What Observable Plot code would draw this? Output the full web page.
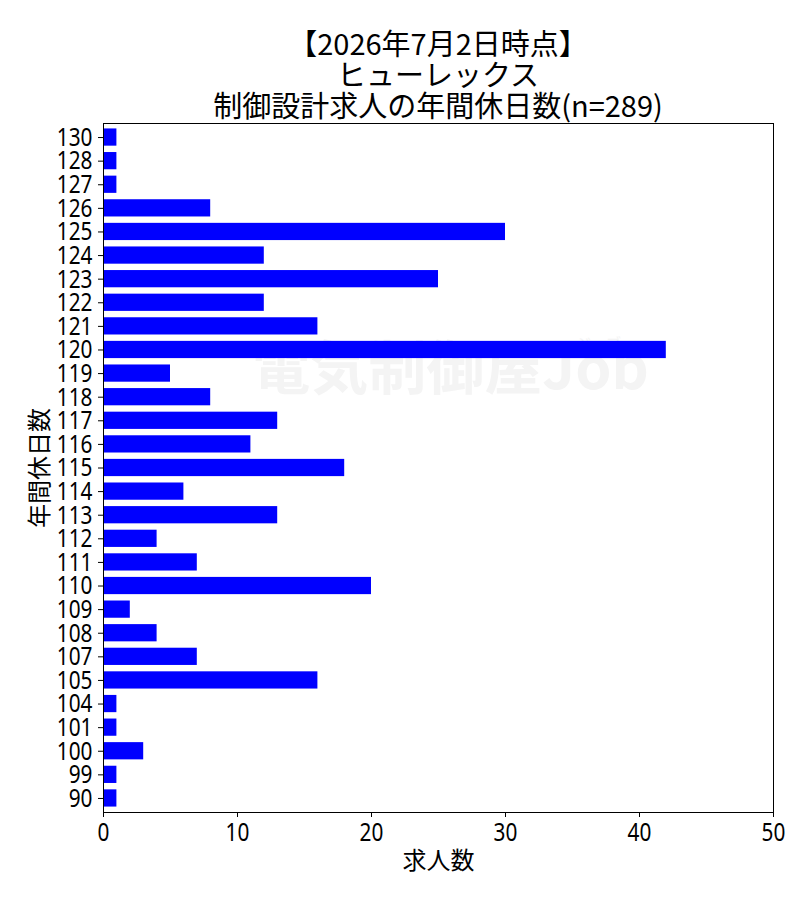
<!DOCTYPE html>
<html>
<head>
<meta charset="utf-8">
<script src="https://cdn.jsdelivr.net/npm/d3@7"></script>
<script src="https://cdn.jsdelivr.net/npm/@observablehq/plot@0.6"></script>
<style>
  body { margin: 0; background: #fff; font-family: "Noto Sans CJK JP", sans-serif; }
  #wrap { width: 800px; height: 900px; position: relative; overflow: hidden; }
  #chart { position: absolute; left: 0; top: 0; }
  #title { position: absolute; top: 27px; left: 103px; width: 670px;
           text-align: center; font-size: 29px; line-height: 31px; color: #000; z-index: 2; }
  #title div { white-space: nowrap; height: 31px; }
  svg { display: block; }
</style>
</head>
<body>
<div id="wrap">
  <div id="chart"></div>
  <div id="title">
    <div>【2026年7月2日時点】</div>
    <div>ヒューレックス</div>
    <div>制御設計求人の年間休日数(n=289)</div>
  </div>
</div>
<script>
const days   = ["130","128","127","126","125","124","123","122","121","120","119","118","117","116","115","114","113","112","111","110","109","108","107","105","104","101","100","99","90"];
const counts = [1,1,1,8,30,12,25,12,16,42,5,8,13,11,18,6,13,4,7,20,2,4,7,16,1,1,3,1,1];
const xTicks = [0,10,20,30,40,50];
const xLabel = "求人数";
const yLabel = "年間休日数";
const watermark = "電気制御屋Job";
const watermarkSmall = "ジョブ";

const data = days.map((d, i) => ({days: d, count: counts[i]}));
const numFont = '"Noto Sans", sans-serif';
const cjkFont = '"Noto Sans CJK JP", sans-serif';

const chart = Plot.plot({
  width: 800,
  height: 900,
  marginLeft: 103,
  marginRight: 27,
  marginTop: 123,
  marginBottom: 88,
  style: {background: "#fff", color: "#000", overflow: "visible"},
  x: {domain: [0, 50], ticks: xTicks, label: null},
  y: {domain: days, paddingInner: 0.27, paddingOuter: 0.23, round: false, label: null},
  marks: [
    Plot.text([watermark], {frameAnchor: "middle", text: d => d, dx: 12, dy: -98, fontSize: 58, fontWeight: "bold", fill: "#f4f4f4", fontFamily: cjkFont}),
    Plot.text([watermarkSmall], {frameAnchor: "middle", text: d => d, dx: 160, dy: -124, fontSize: 15, fill: "#f4f4f4", fontFamily: cjkFont}),
    Plot.barX(data, {x: "count", y: "days", fill: "#0000ff"}),
    Plot.frame({stroke: "#000", strokeWidth: 1}),
    Plot.axisX({ticks: xTicks, tickSize: 5, tickPadding: 5, fontSize: 26, fontFamily: numFont, label: null, stroke: "#000"}),
    Plot.axisY({tickSize: 5, tickPadding: 6, fontSize: 26, fontFamily: numFont, label: null, stroke: "#000"}),
    Plot.text([xLabel], {frameAnchor: "bottom", text: d => d, dy: 56, fontSize: 24, fontFamily: cjkFont, fill: "#000"}),
    Plot.text([yLabel], {frameAnchor: "left", text: d => d, rotate: -90, textAnchor: "middle", dx: -63, fontSize: 24, fontFamily: cjkFont, fill: "#000"})
  ]
});
// condense the numeric tick labels horizontally, like the reference's narrow digits
chart.querySelectorAll("g[aria-label='x-axis tick label'] text, g[aria-label='y-axis tick label'] text").forEach(t => {
  const tr = t.getAttribute("transform") || "";
  t.setAttribute("transform", tr + " scale(0.8,1)");
});
document.getElementById("chart").appendChild(chart);
</script>
</body>
</html>
